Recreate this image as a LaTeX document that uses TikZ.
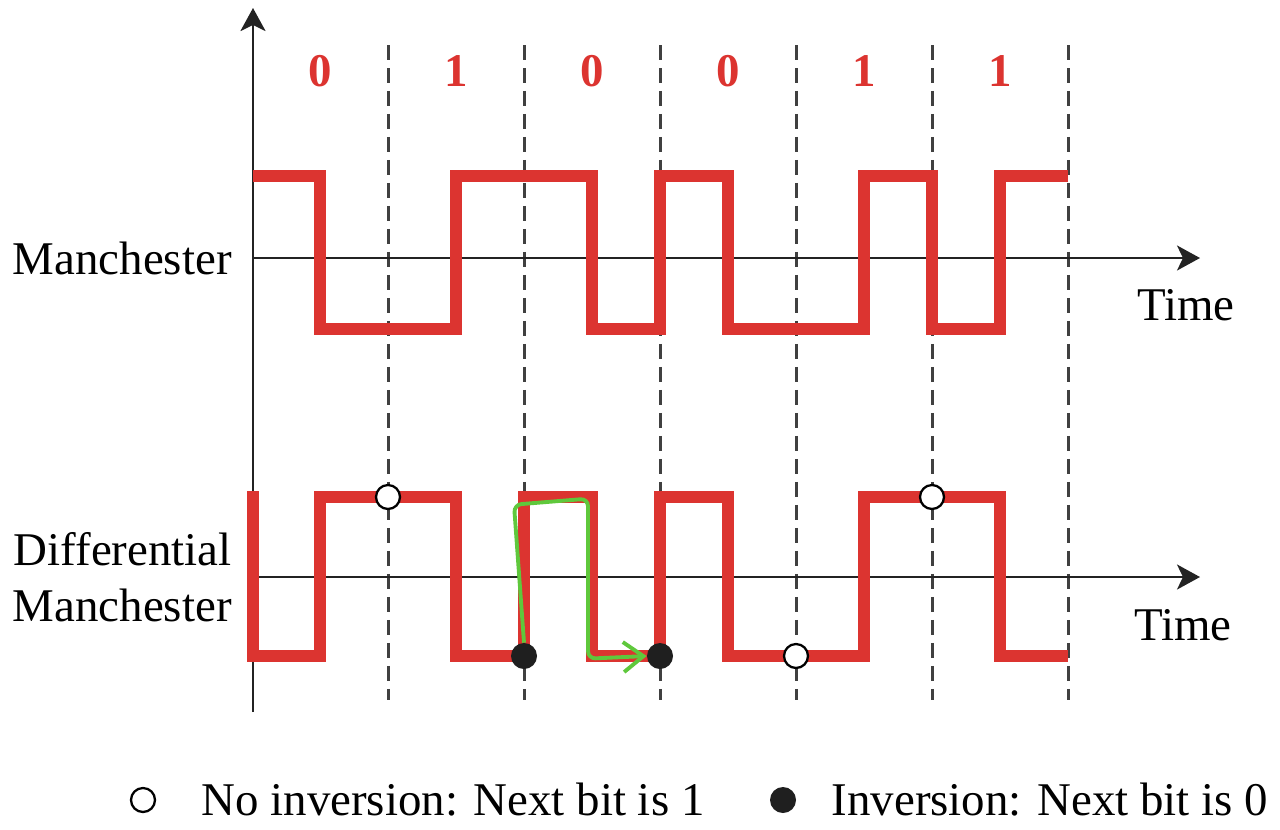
\documentclass[tikz,border=0pt]{standalone}
\usepackage{fontspec}
\setmainfont{Liberation Serif}
\usepackage{xcolor}
\usetikzlibrary{arrows.meta,positioning,calc}
\definecolor{sigred}{RGB}{220,52,48}
\definecolor{notegreen}{RGB}{95,200,60}
\definecolor{axisgray}{RGB}{35,35,35}

\begin{document}
\begin{tikzpicture}[x=0.02cm, y=-0.02cm,
  txt/.style={font=\fontsize{26.7}{32}\selectfont, inner sep=0pt},
  bitlbl/.style={inner sep=0pt, font=\fontsize{26.7}{32}\selectfont\bfseries, text=sigred},
  timeaxis/.style={-{Stealth[length=0.46cm, width=0.5cm, inset=0.12cm]}, line width=1.4pt, draw=axisgray},
  bitline/.style={dash pattern=on 0.3cm off 0.16cm, line width=1.7pt, draw=black!75},
  wave/.style={line width=0.24cm, draw=sigred, line join=miter},
  nomark/.style={circle, draw=black, fill=white, line width=1.3pt, minimum size=0.48cm, inner sep=0pt},
  invmark/.style={circle, fill=black!88, minimum size=0.52cm, inner sep=0pt},
  note/.style={-{Straight Barb[length=0.4cm, width=0.6cm]}, line width=2.2pt, draw=notegreen,
               rounded corners=0.15cm},
]
\useasboundingbox (0,0) rectangle (1280,829);
\coordinate (o0) at (253,712);
\coordinate (top) at (253,8);
\coordinate (o1) at (253,258);
\coordinate (t1) at (1200,258);
\coordinate (o2) at (253,577);
\coordinate (t2) at (1200,577);
\draw[bitline] (388,45) -- (388,700);
\draw[bitline] (524,45) -- (524,700);
\draw[bitline] (660,45) -- (660,700);
\draw[bitline] (796,45) -- (796,700);
\draw[bitline] (932,45) -- (932,700);
\draw[bitline] (1068,45) -- (1068,700);
\draw[timeaxis, line width=1.7pt] (o0) -- (top);
\draw[timeaxis] (o1) -- (t1);
\draw[timeaxis] (o2) -- (t2);
\node[bitlbl] (b1) at (320,71) {0};
\node[bitlbl] (b2) at (456,71) {1};
\node[bitlbl] (b3) at (592,71) {0};
\node[bitlbl] (b4) at (728,71) {0};
\node[bitlbl] (b5) at (864,71) {1};
\node[bitlbl] (b6) at (1000,71) {1};
\draw[wave] (253,176) -- (320,176) -- (320,329) -- (456,329) -- (456,176) -- (592,176)
  -- (592,329) -- (660,329) -- (660,176) -- (728,176) -- (728,329) -- (864,329)
  -- (864,176) -- (932,176) -- (932,329) -- (1000,329) -- (1000,176) -- (1068,176);
\draw[wave] (253,491) -- (253,656) -- (320,656) -- (320,497) -- (456,497) -- (456,656)
  -- (524,656) -- (524,497) -- (592,497) -- (592,656) -- (660,656) -- (660,497)
  -- (728,497) -- (728,656) -- (864,656) -- (864,497) -- (1000,497) -- (1000,656) -- (1068,656);
\node[txt, anchor=east] (manlbl) at (232,258) {Manchester};
\node[txt, anchor=east, align=right] (difflbl) at (232,577) {Differential\\Manchester};
\node[txt] (time1) at (1186,305) {Time};
\node[txt] (time2) at (1183,625) {Time};
\node[nomark] (nx1) at (388,497) {};
\node[nomark] (nx2) at (932,497) {};
\node[nomark] (nx3) at (796,656) {};
\node[invmark] (iv1) at (524,656) {};
\node[invmark] (iv2) at (660,656) {};
\node[nomark] (key1) at (143,800) {};
\node[txt, right=0.9cm of key1] (keytxt1) {No inversion: Next bit is 1};
\node[invmark] (key2) at (783,800) {};
\node[txt, right=0.7cm of key2] (keytxt2) {Inversion: Next bit is 0};
\draw[note] (iv1.north) -- ++(-10,-138) -- ++(74,-6) -- ++(0,160) -- (iv2.west);
\end{tikzpicture}
\end{document}
